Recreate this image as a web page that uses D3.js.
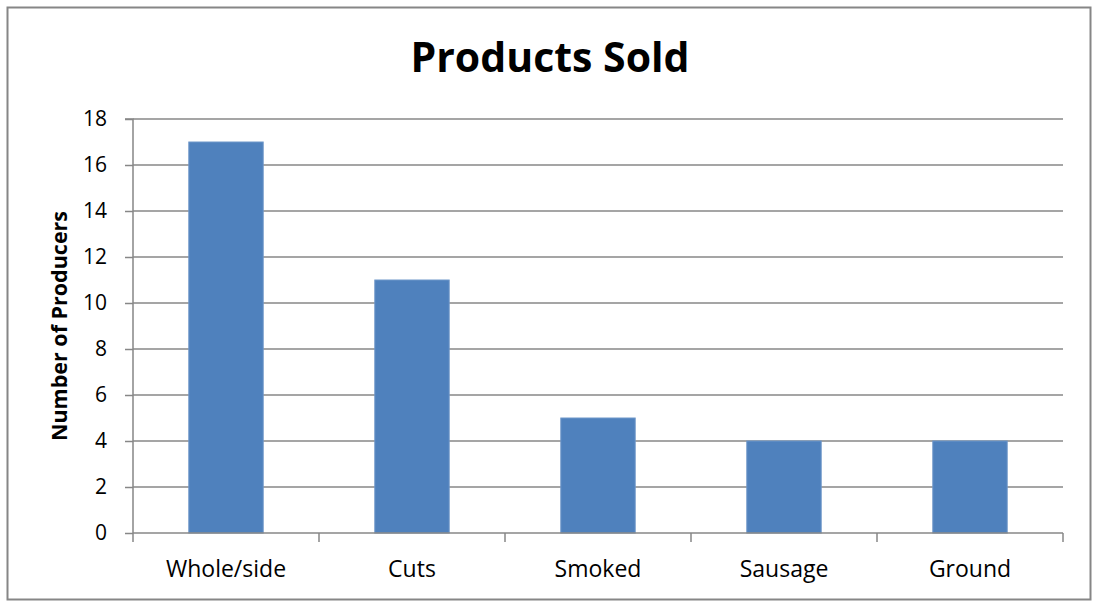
<!DOCTYPE html>
<html>
<head>
<meta charset="utf-8">
<script src="https://cdn.jsdelivr.net/npm/d3@7/dist/d3.min.js"></script>
<style>
  html, body { margin: 0; padding: 0; background: #fff; }
  svg { display: block; }
  text { font-family: "Open Sans", "Noto Sans", sans-serif; fill: #000; }
</style>
</head>
<body>
<svg id="chart" width="1094" height="607"></svg>
<script>
const categories = ["Whole/side", "Cuts", "Smoked", "Sausage", "Ground"];
const producers = [17, 11, 5, 4, 4];
const yTicks = [0, 2, 4, 6, 8, 10, 12, 14, 16, 18];
const chartTitle = "Products Sold";
const yTitle = "Number of Producers";

const svg = d3.select("#chart");
const plot = { left: 133, right: 1063, top: 119, bottom: 533 };
const gridColor = "#878787";

// outer frame
svg.append("rect")
  .attr("x", 7.5).attr("y", 7.5)
  .attr("width", 1083).attr("height", 592)
  .attr("fill", "#fff")
  .attr("stroke", "#868686").attr("stroke-width", 2);

const x = d3.scaleBand()
  .domain(categories)
  .range([plot.left, plot.right])
  .paddingInner(0.6)
  .paddingOuter(0.3);

const y = d3.scaleLinear()
  .domain([0, 18])
  .range([plot.bottom, plot.top]);

// horizontal gridlines
svg.append("g")
  .selectAll("line")
  .data(yTicks.filter(d => d > 0))
  .join("line")
  .attr("x1", plot.left).attr("x2", plot.right)
  .attr("y1", d => y(d)).attr("y2", d => y(d))
  .attr("stroke", gridColor).attr("stroke-width", 1.5);

// bars
svg.append("g")
  .selectAll("rect")
  .data(categories)
  .join("rect")
  .attr("x", d => x(d))
  .attr("width", x.bandwidth())
  .attr("y", (d, i) => y(producers[i]))
  .attr("height", (d, i) => y(0) - y(producers[i]))
  .attr("fill", "#4F81BD")
  .attr("stroke", "#6f97c9").attr("stroke-width", 1);

// y axis
const yAxis = d3.axisLeft(y)
  .tickValues(yTicks)
  .tickSize(8)
  .tickPadding(18)
  .tickFormat(d3.format("d"));
const gy = svg.append("g")
  .attr("transform", `translate(${plot.left},0)`)
  .call(yAxis);
gy.select(".domain").attr("stroke", gridColor).attr("stroke-width", 1.5)
  .attr("d", `M-8,${plot.top}H0V${plot.bottom}`);
gy.selectAll(".tick line").attr("stroke", gridColor).attr("stroke-width", 1.5);
gy.selectAll(".tick text")
  .attr("font-size", 21)
  .attr("font-family", "'Open Sans', 'Noto Sans', sans-serif")
  .attr("fill", "#000");

// x axis with category boundary ticks
const boundaries = d3.range(categories.length + 1)
  .map(i => plot.left + i * (plot.right - plot.left) / categories.length);
const gx = svg.append("g");
gx.append("line")
  .attr("x1", plot.left).attr("x2", plot.right)
  .attr("y1", plot.bottom).attr("y2", plot.bottom)
  .attr("stroke", gridColor).attr("stroke-width", 1.5);
gx.selectAll("line.b")
  .data(boundaries)
  .join("line")
  .attr("class", "b")
  .attr("x1", d => d).attr("x2", d => d)
  .attr("y1", plot.bottom).attr("y2", plot.bottom + 9)
  .attr("stroke", gridColor).attr("stroke-width", 1.5);
gx.selectAll("text")
  .data(categories)
  .join("text")
  .attr("x", d => x(d) + x.bandwidth() / 2)
  .attr("y", 577)
  .attr("text-anchor", "middle")
  .attr("font-size", 23)
  .text(d => d);

// titles
svg.append("text")
  .attr("x", 550).attr("y", 72)
  .attr("text-anchor", "middle")
  .attr("font-size", 41)
  .attr("font-weight", "bold")
  .text(chartTitle);

svg.append("text")
  .attr("transform", `translate(67,${(plot.top + plot.bottom) / 2}) rotate(-90)`)
  .attr("text-anchor", "middle")
  .attr("font-size", 21.5)
  .attr("font-weight", "bold")
  .text(yTitle);
</script>
</body>
</html>
